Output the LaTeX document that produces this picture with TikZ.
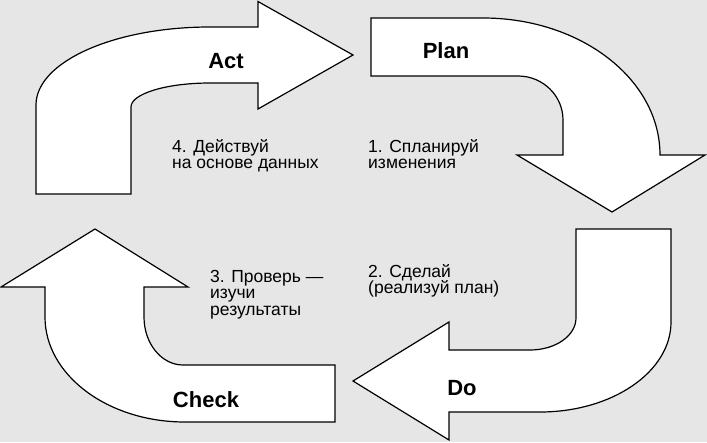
\documentclass[tikz,border=0pt]{standalone}
\usepackage{fontspec}
\setmainfont{Liberation Sans}
\definecolor{bg}{RGB}{230,230,230}
\begin{document}
\begin{tikzpicture}[x=1pt,y=-1pt,
  arrowshape/.style={draw=black, fill=white, line width=1.2pt, line join=miter},
  lbl/.style={font=\fontsize{22}{26}\selectfont\bfseries, inner sep=0},
  note/.style={inner sep=0, anchor=base west, font=\fontsize{17.5}{16.5}\selectfont}]
\fill[bg] (0,0) rectangle (707,442);
\useasboundingbox (0,0) rectangle (707,442);

% Act arrow
\draw[arrowshape] (36,194) -- (36,105)
  .. controls (36,61.9) and (113.9,27) .. (210,27) -- (258,27) -- (258,1.5)
  -- (353,55) -- (258,109) -- (258,83) -- (210,83)
  .. controls (166.4,83) and (131,93.7) .. (131,107) -- (131,194) -- cycle;

% Plan arrow
\draw[arrowshape] (371,18) -- (483,18)
  .. controls (580.8,18) and (660,79.3) .. (660,155) -- (705,155)
  -- (612,212) -- (517,155) -- (563,155) -- (563,120)
  .. controls (563,95.7) and (542.9,76) .. (518,76) -- (371,76) -- cycle;

% Do arrow
\draw[arrowshape] (576,229) -- (671,229) -- (671,322)
  .. controls (671,371.7) and (612.4,412) .. (540,412) -- (449,412)
  -- (449,440) -- (353,381) -- (449,322) -- (449,350) -- (530,350)
  .. controls (555.4,350) and (576,335.7) .. (576,318) -- cycle;

% Check arrow
\draw[arrowshape] (335,422) -- (185,422)
  .. controls (107.7,422) and (45,375) .. (45,317) -- (45,287)
  -- (1,287) -- (95,229) -- (188,287) -- (144,287) -- (144,317)
  .. controls (144,343.5) and (161.5,365) .. (183,365) -- (335,365) -- cycle;

% labels
\node[lbl] (act) at (226,61) {Act};
\node[lbl] (plan) at (446,51) {Plan};
\node[lbl] (do) at (462,388) {Do};
\node[lbl] (check) at (206,400) {Check};

\node[note] (t4) at (172,152) {\vtop{\lineskiplimit=-\maxdimen\hbox{4. Действуй}\hbox{на основе данных}}};
\node[note] (t1) at (368,152) {\vtop{\lineskiplimit=-\maxdimen\hbox{1. Спланируй}\hbox{изменения}}};
\node[note] (t2) at (368,277) {\vtop{\lineskiplimit=-\maxdimen\hbox{2. Сделай}\hbox{(реализуй план)}}};
\node[note] (t3) at (210,282) {\vtop{\lineskiplimit=-\maxdimen\hbox{3. Проверь —}\hbox{изучи}\hbox{результаты}}};
\end{tikzpicture}
\end{document}
